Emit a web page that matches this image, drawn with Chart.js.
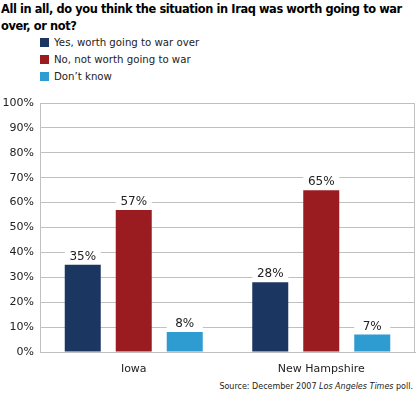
<!DOCTYPE html>
<html>
<head>
<meta charset="utf-8">
<script src="https://cdn.jsdelivr.net/npm/chart.js@4/dist/chart.umd.min.js"></script>
<style>
  body { margin: 0; background: #fff; }
  #wrap { position: relative; width: 416px; height: 396px; font-family: "DejaVu Sans", Verdana, sans-serif; color: #000; overflow: hidden; }
  #title { position: absolute; left: 1px; top: 1px; width: 415px; font-weight: bold; font-size: 11.4px; letter-spacing: -0.4px; line-height: 17px; white-space: nowrap; }
  #legend { position: absolute; left: 40px; top: 35px; font-size: 10.2px; color: #222; }
  .item { height: 17px; line-height: 15px; white-space: nowrap; }
  .sw { display: inline-block; width: 9px; height: 9px; margin-right: 5px; vertical-align: -1px; }
  #source { position: absolute; right: 3px; top: 382px; font-size: 8px; color: #222; white-space: nowrap; }
  #box { position: absolute; left: 0; top: 90px; width: 416px; height: 290px; }
</style>
</head>
<body>
<div id="wrap">
  <div id="title">All in all, do you think the situation in Iraq was worth going to war<br>over, or not?</div>
  <div id="legend"></div>
  <div id="box"><canvas id="myChart"></canvas></div>
  <div id="source">Source: December 2007 <i>Los Angeles Times</i> poll.</div>
</div>
<script>
const categories = ['Iowa', 'New Hampshire']
const seriesNames = ['Yes, worth going to war over', 'No, not worth going to war', 'Don\u2019t know']
const yesValues = [35, 28]
const noValues = [57, 65]
const dontKnowValues = [8, 7]
const colors = ['#1c3662', '#9b1c20', '#2e9bd1']

// legend as html
let legend = document.getElementById('legend')
seriesNames.forEach((name, i) => {
  legend.innerHTML += `<div class="item"><span class="sw" style="background:${colors[i]}"></span>${name}</div>`
})

const labelPlugin = {
  id: 'valueLabels',
  afterDatasetsDraw(chart) {
    const { ctx, chartArea } = chart
    ctx.save()
    // right border of the plot
    ctx.strokeStyle = '#c0c0c0'
    ctx.lineWidth = 1
    ctx.beginPath()
    ctx.moveTo(Math.round(chartArea.right) - 0.5, chartArea.top)
    ctx.lineTo(Math.round(chartArea.right) - 0.5, chartArea.bottom)
    ctx.stroke()

    ctx.font = '12px "DejaVu Sans", sans-serif'
    ctx.textAlign = 'center'
    ctx.textBaseline = 'bottom'
    chart.data.datasets.forEach((ds, i) => {
      chart.getDatasetMeta(i).data.forEach((bar, j) => {
        const w = bar.width
        ctx.fillStyle = '#fff'
        ctx.fillRect(bar.x - w / 2, bar.y - 16, w, 15)
        ctx.fillStyle = '#222'
        ctx.fillText(ds.data[j] + '%', bar.x, bar.y - 2)
      })
    })
    ctx.restore()
  }
}

const myChart = new Chart(document.getElementById('myChart'), {
  type: 'bar',
  data: {
    labels: categories,
    datasets: [
      { label: seriesNames[0], data: yesValues, backgroundColor: colors[0] },
      { label: seriesNames[1], data: noValues, backgroundColor: colors[1] },
      { label: seriesNames[2], data: dontKnowValues, backgroundColor: colors[2] }
    ]
  },
  options: {
    responsive: true,
    maintainAspectRatio: false,
    animation: false,
    layout: { padding: { top: 13, right: 1, left: 0, bottom: 0 } },
    datasets: { bar: { barPercentage: 0.706, categoryPercentage: 0.816 } },
    plugins: { legend: { display: false }, tooltip: { enabled: false } },
    scales: {
      x: {
        grid: { display: false },
        border: { color: '#c0c0c0' },
        ticks: { color: '#222', font: { family: 'DejaVu Sans', size: 11 }, padding: 3 },
        afterFit: (scale) => { scale.height = 28 }
      },
      y: {
        min: 0,
        max: 100,
        ticks: {
          stepSize: 10,
          color: '#222',
          padding: 6,
          font: { family: 'DejaVu Sans', size: 11 },
          callback: (v) => v + '%'
        },
        grid: { color: '#c0c0c0', drawTicks: false },
        border: { color: '#c0c0c0' },
        afterFit: (scale) => { scale.width = 40 }
      }
    }
  },
  plugins: [labelPlugin]
})
</script>
</body>
</html>
